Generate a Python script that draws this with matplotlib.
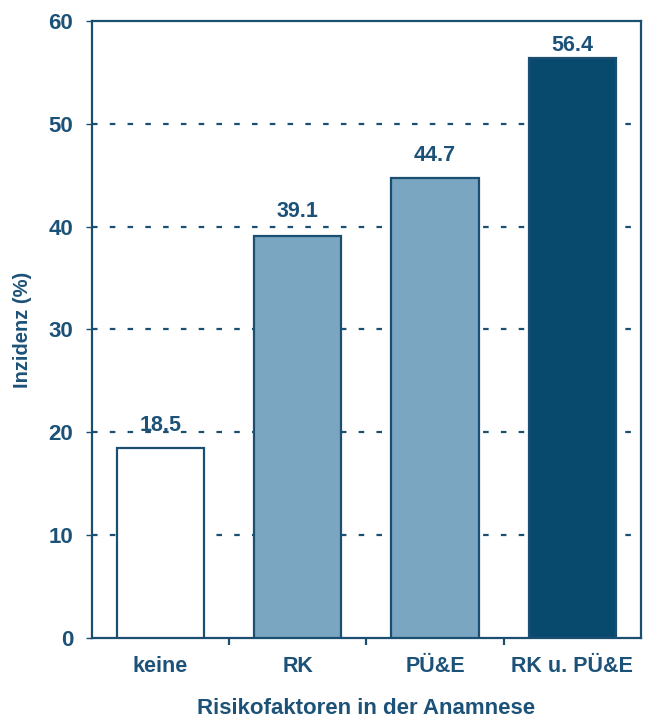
import matplotlib
matplotlib.use("Agg")
import matplotlib.pyplot as plt

categories = ["keine", "RK", "PÜ&E", "RK u. PÜ&E"]
incidence = [18.5, 39.1, 44.7, 56.4]
bar_colors = ["white", "#7aa6c2", "#7aa6c2", "#074a6e"]
y_ticks = [0, 10, 20, 30, 40, 50, 60]

NAVY = "#1b4f72"
TEXT = "#1d5278"

plt.rcParams["font.family"] = ["Liberation Sans", "DejaVu Sans"]
plt.rcParams["font.weight"] = "bold"

fig = plt.figure(figsize=(6.45, 7.23), dpi=100)
ax = fig.add_axes([0.1426, 0.1176, 0.851, 0.8534])

x = range(len(categories))
bars = ax.bar(x, incidence, width=0.635, color=bar_colors, edgecolor=NAVY,
              linewidth=1.6, zorder=3)
# value labels sit at slightly different heights above each bar
label_lift = [8.5, 10, 9, 1.5]
for b, v, lift in zip(bars, incidence, label_lift):
    ax.annotate(f"{v:.1f}", (b.get_x() + b.get_width() / 2, v),
                xytext=(0, lift), textcoords="offset points", ha="center", va="bottom",
                fontsize=15.5, fontweight="bold", color=TEXT, zorder=4)

# dashed guides behind the bars
for yv in y_ticks[1:-1]:
    ax.axhline(yv, color=NAVY, lw=1.6, ls=(0, (2.5, 5.5)), zorder=1)

ax.set_xlim(-0.5, len(categories) - 0.5)
ax.set_ylim(0, 60)
ax.set_yticks(y_ticks)
ax.set_xticks(list(x))
ax.set_xticklabels(categories)
ax.set_xticks([i + 0.5 for i in range(len(categories) - 1)], minor=True)

for s in ax.spines.values():
    s.set_color(NAVY)
    s.set_linewidth(1.6)

ax.tick_params(axis="x", which="major", length=0, pad=13, labelsize=15.5, labelcolor=TEXT)
ax.tick_params(axis="x", which="minor", length=5, width=1.6, color=NAVY, direction="out")
ax.tick_params(axis="y", length=4.5, width=1.0, color=NAVY, pad=9, labelsize=16,
               labelcolor=TEXT)
for lab in ax.get_xticklabels() + ax.get_yticklabels():
    lab.set_fontweight("bold")

ax.set_xlabel("Risikofaktoren in der Anamnese", fontsize=16, fontweight="bold",
              color=TEXT, labelpad=15)
ax.set_ylabel("Inzidenz (%)", fontsize=14.5, fontweight="bold", color=TEXT, labelpad=12)

fig.savefig("out.png", dpi=100)
